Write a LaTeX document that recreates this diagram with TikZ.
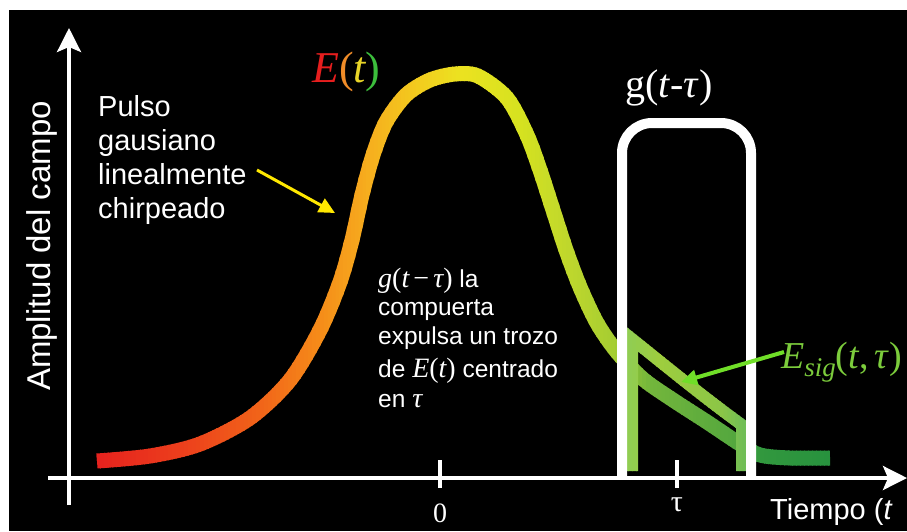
\RequirePackage{fix-cm}
\documentclass[tikz,border=0pt]{standalone}
\usepackage{fontspec}
\setmainfont{Liberation Sans}
\newfontfamily\seriff{Liberation Serif}
\usetikzlibrary{arrows.meta}
\definecolor{c1}{RGB}{228,28,30}
\definecolor{c2}{RGB}{236,62,28}
\definecolor{c3}{RGB}{241,100,25}
\definecolor{c4}{RGB}{245,140,25}
\definecolor{c5}{RGB}{246,175,30}
\definecolor{c6}{RGB}{242,205,30}
\definecolor{c7}{RGB}{236,226,32}
\definecolor{c8}{RGB}{214,226,32}
\definecolor{c9}{RGB}{190,215,45}
\definecolor{c10}{RGB}{165,205,50}
\definecolor{c11}{RGB}{115,182,60}
\definecolor{c12}{RGB}{82,166,62}
\definecolor{c13}{RGB}{50,152,62}
\definecolor{c14}{RGB}{38,145,62}
\definecolor{s1}{RGB}{140,205,88}
\definecolor{s2}{RGB}{158,205,62}
\definecolor{s3}{RGB}{140,198,70}
\definecolor{s4}{RGB}{105,188,90}
\definecolor{esigc}{RGB}{124,204,60}
\definecolor{arrg}{RGB}{112,222,40}
\definecolor{arry}{RGB}{255,232,0}
\definecolor{ecol1}{RGB}{230,30,30}
\definecolor{ecol2}{RGB}{240,140,40}
\definecolor{ecol3}{RGB}{232,212,40}
\definecolor{ecol4}{RGB}{60,190,60}
\newcommand\mvar[1]{{\seriff\fontsize{28}{28}\selectfont\itshape #1}}
\newcommand\mup[1]{{\seriff\fontsize{28}{28}\selectfont #1}}
\tikzset{
  axisline/.style={white, line width=3.5},
  bigtxt/.style={white, inner sep=0pt, font=\fontsize{29}{34}\selectfont},
  midtxt/.style={white, inner sep=0pt, font=\fontsize{24.5}{28}\selectfont},
}
\begin{document}
\begin{tikzpicture}[x=1pt,y=-1pt]
\useasboundingbox (0,0) rectangle (907,531);
\fill[white] (0,0) rectangle (907,531);
\fill[black] (9,10) rectangle (907,531);

% main pulse E(t), gradient along x
\path[save path=\mainp] plot[smooth, tension=0.5] coordinates {
 (97,461) (150,456) (200,444) (250,418) (290,380) (320,330) (340,282)
 (352,240) (362,195) (373,155) (386,122) (406,95) (430,80) (455,74) (478,76)
 (507,98) (527,135) (540,170) (553,210) (566,250) (580,287) (597,323)
 (617,352) (643,379) (673,400) (707,422) (740,444) (760,455) (790,458) (830,458)};
\foreach \xa/\xb/\ca/\cb in {80/180/c1/c2, 180/260/c2/c3, 260/320/c3/c4,
  320/370/c4/c5, 370/420/c5/c6, 420/460/c6/c7, 460/520/c7/c8, 520/570/c8/c9,
  570/615/c9/c10, 615/650/c10/c11, 650/740/c11/c12, 740/760/c12/c13, 760/840/c13/c14}{
  \pgfmathsetmacro\n{int(ceil((\xb-\xa)/4))}
  \foreach \k in {1,...,\n}{
    \pgfmathsetmacro\xl{\xa+(\k-1)*(\xb-\xa)/\n}
    \pgfmathsetmacro\xr{\xa+\k*(\xb-\xa)/\n+0.8}
    \pgfmathsetmacro\p{int(100*(\k-0.5)/\n)}
    \colorlet{stripc}{\cb!\p!\ca}
    \begin{scope}
      \clip (\xl,0) rectangle (\xr,531);
      \draw[stripc, line width=15, use path=\mainp];
    \end{scope}
  }
}

% gated piece E_sig
\path[save path=\sigp] (632,471) -- (632,339) .. controls (662,363) and (702,396) .. (742,425) -- (742,471);
\foreach \xa/\xb/\ca/\cb in {620/660/s1/s2, 660/720/s2/s3, 720/750/s3/s4}{
  \pgfmathsetmacro\n{int(ceil((\xb-\xa)/4))}
  \foreach \k in {1,...,\n}{
    \pgfmathsetmacro\xl{\xa+(\k-1)*(\xb-\xa)/\n}
    \pgfmathsetmacro\xr{\xa+\k*(\xb-\xa)/\n+0.8}
    \pgfmathsetmacro\p{int(100*(\k-0.5)/\n)}
    \colorlet{stripc}{\cb!\p!\ca}
    \begin{scope}
      \clip (\xl,0) rectangle (\xr,531);
      \draw[stripc, line width=12, miter limit=10, use path=\sigp];
    \end{scope}
  }
}

% gate g(t-tau)
\draw[white, line width=10, rounded corners=30] (622,478) -- (622,123) -- (751,123) -- (751,478);

% axes
\draw[axisline, -{Stealth[length=24pt, width=24pt, inset=5pt]}] (69,505) -- (69,28);
\draw[axisline, -{Stealth[length=24pt, width=24pt, inset=5pt]}] (48,478) -- (907,478);
\draw[axisline] (440,460) -- (440,488);
\draw[axisline] (677,460) -- (677,488);

% labels
\node[white, inner sep=0pt, anchor=base, font=\seriff\fontsize{28}{28}\selectfont] (zero) at (440,522) {0};
\node[white, inner sep=0pt, anchor=base, font=\seriff\fontsize{30}{30}\selectfont] (tau) at (677,511) {τ};
\node[white, inner sep=0pt, anchor=base west, font=\fontsize{29}{34}\selectfont] (tiempo) at (770,519) {Tiempo (\textit{t}};
\node[white, inner sep=0pt, anchor=base, rotate=90, font=\fontsize{33}{36}\selectfont] (amp) at (50,246) {Amplitud del campo};

\node[bigtxt, anchor=base west] (p1) at (98,116) {Pulso};
\node[bigtxt, anchor=base west] (p2) at (98,150) {gausiano};
\node[bigtxt, anchor=base west] (p3) at (98,184) {linealmente};
\node[bigtxt, anchor=base west] (p4) at (98,218) {chirpeado};

\node[inner sep=0pt, anchor=base west, font=\seriff\fontsize{44}{44}\selectfont] (et) at (312,82)
  {\textcolor{ecol1}{\itshape E}\textcolor{ecol2}{(}\textcolor{ecol3}{\itshape t}\textcolor{ecol4}{)}};
\node[white, inner sep=0pt, anchor=base west, font=\seriff\fontsize{40}{40}\selectfont] (gt) at (625,97)
  {g(\textit{t}-\textit{τ})};
\node[esigc, inner sep=0pt, anchor=base west, font=\seriff\fontsize{38}{38}\selectfont] (esig) at (781,368)
  {\textit{E}\raisebox{-8pt}{\fontsize{27}{27}\selectfont\itshape sig}(\textit{t},\,\textit{τ})};

\node[midtxt, anchor=base west] (m1) at (378,287) {\mvar{g}\mup{(}\mvar{t}\,\mup{−}\,\mvar{τ}\mup{)} la};
\node[midtxt, anchor=base west] (m2) at (378,315) {compuerta};
\node[midtxt, anchor=base west] (m3) at (378,344) {expulsa un trozo};
\node[midtxt, anchor=base west] (m4) at (378,377) {de \mvar{E}\mup{(}\mvar{t}\mup{)} centrado};
\node[midtxt, anchor=base west] (m5) at (378,407) {en \mvar{τ}};

% pointer arrows
\coordinate (ys) at (257,170);
\coordinate (ye) at (335,213);
\draw[arry, line width=3, -{Triangle[length=16pt, width=15pt]}] (ys) -- (ye);
\coordinate (gs) at (784,352);
\coordinate (ge) at (681,382);
\draw[arrg, line width=4, -{Triangle[length=16pt, width=15pt]}] (gs) -- (ge);
\end{tikzpicture}
\end{document}
